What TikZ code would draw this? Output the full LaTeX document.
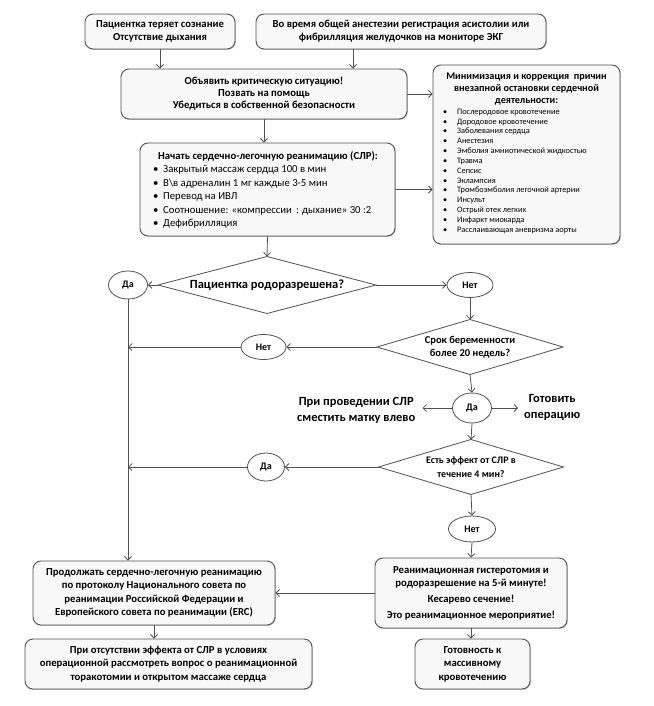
\documentclass[tikz,border=0pt]{standalone}
\usepackage{fontspec}
\setmainfont{Carlito}
\usetikzlibrary{shapes.geometric,arrows.meta,shadows}
\definecolor{lc}{RGB}{80,80,80}
\definecolor{bf}{RGB}{248,248,248}
\begin{document}
\begin{tikzpicture}[x=1pt,y=-1pt,
 box/.style={draw=lc, fill=bf, rounded corners=8pt, line width=0.9pt, inner sep=0pt, align=center,
   drop shadow={shadow xshift=0.8pt,shadow yshift=-0.8pt,fill=black,opacity=0.25}},
 dia/.style={draw=lc, fill=white, diamond, inner sep=0pt, outer sep=0pt, align=center, line width=0.8pt},
 ell/.style={draw=lc, fill=white, ellipse, inner sep=0pt, line width=0.8pt, font=\bfseries\fontsize{10}{11}\selectfont},
 arr/.style={draw=lc, line width=0.8pt, -{Straight Barb[length=3.5pt,width=7pt]}},
 bt/.style={font=\bfseries\fontsize{10.7}{13}\selectfont},
 bt2/.style={font=\bfseries\fontsize{10.7}{13.5}\selectfont},
 itm/.style={anchor=base west, inner sep=0pt, font=\fontsize{8.3}{10}\selectfont},
 ditm/.style={anchor=base west, inner sep=0pt, font=\fontsize{10.7}{13}\selectfont},
 side/.style={font=\bfseries\fontsize{12.5}{16}\selectfont, align=center, inner sep=0pt},
]
\useasboundingbox (0,0) rectangle (653,706);

% top boxes
\node[box,bt, minimum width=150, minimum height=35] (A) at (160,31.5) {Пациентка теряет сознание\\Отсутствие дыхания};
\node[box,bt, minimum width=290, minimum height=35] (B) at (401,31.5) {Во время общей анестезии регистрация асистолии или\\фибрилляция желудочков на мониторе ЭКГ};
\node[box, font=\bfseries\fontsize{10.7}{12}\selectfont, minimum width=286, minimum height=50] (C) at (264,94) {Объявить критическую ситуацию!\\Позвать на помощь\\Убедиться в собственной безопасности};

% minimization box
\node[box, minimum width=187, minimum height=179] (M) at (526.5,154.5) {};
\node[font=\bfseries\fontsize{10.2}{12}\selectfont, align=center, inner sep=0pt] (Mt) at (526.5,89) {Минимизация и коррекция \ причин\\внезапной остановки сердечной\\деятельности:};
\foreach \t [count=\i] in {Послеродовое кровотечение, Дородовое кровотечение, Заболевания сердца, Анестезия, Эмболия амниотической жидкостью, Травма, Сепсис, Эклампсия, Тромбоэмболия легочной артерии, Инсульт, Острый отек легких, Инфаркт миокарда, Расслаивающая аневризма аорты}{
  \node[itm] (mb\i) at (443,{114.3+9.83*(\i-1)}) {•};
  \node[itm] (m\i) at (457,{114.3+9.83*(\i-1)}) {\t};
}

% CPR box
\node[box, minimum width=255, minimum height=93] (D) at (267.5,189.5) {};
\node[font=\bfseries\fontsize{10.7}{13}\selectfont, inner sep=0pt] (Dt) at (268,156) {Начать сердечно-легочную реанимацию (СЛР):};
\foreach \t/\yy [count=\i] in {Закрытый массаж сердца 100 в мин/169, В\textbackslash{}в адреналин 1 мг каждые 3-5 мин/183, Перевод на ИВЛ/196, Соотношение: «компрессии \,: дыхание» 30 :2/210, Дефибрилляция/223}{
  \node[ditm] (db\i) at (153,{\yy+3}) {•};
  \node[ditm] (d\i) at (163,{\yy+3}) {\t};
}

% decisions
\node[dia, minimum width=218, minimum height=57, aspect=3.8, font=\bfseries\fontsize{12.5}{15}\selectfont] (Q1) at (267,285) {Пациентка родоразрешена?};
\node[ell, minimum width=39, minimum height=28] (Da1) at (128,285) {Да};
\node[ell, minimum width=46, minimum height=25] (Net1) at (470,285) {Нет};
\node[dia, minimum width=186, minimum height=55, aspect=3.38, font=\bfseries\fontsize{10.5}{13}\selectfont] (Q2) at (470,347) {Срок беременности\\более 20 недель?};
\node[ell, minimum width=45, minimum height=25] (Net2) at (263.5,347) {Нет};
\node[ell, minimum width=39, minimum height=30] (Da2) at (472,408) {Да};
\node[side, anchor=east] (L) at (415.5,410) {При проведении СЛР\\сместить матку влево};
\node[side, anchor=west] (Rt) at (524,407) {Готовить\\операцию};
\node[dia, minimum width=185, minimum height=55, aspect=3.36, font=\bfseries\fontsize{10}{14}\selectfont] (Q3) at (471,467) {Есть эффект от СЛР в\\течение 4 мин?};
\node[ell, minimum width=37, minimum height=28] (Da3) at (266,467) {Да};
\node[ell, minimum width=47, minimum height=26] (Net3) at (472,529) {Нет};

% bottom boxes
\node[box,bt2, minimum width=242, minimum height=64] (P) at (154,593) {Продолжать сердечно-легочную реанимацию\\по протоколу Национального совета по\\реанимации Российской Федерации и\\Европейского совета по реанимации (ERC)};
\node[box,bt2, minimum width=192, minimum height=70] (R) at (471,593) {Реанимационная гистеротомия и\\родоразрешение на 5-й минуте!\\[2.5pt]Кесарево сечение!\\[2pt]Это реанимационное мероприятие!};
\node[box,bt2, minimum width=287, minimum height=50] (E) at (168.5,664) {При отсутствии эффекта от СЛР в условиях\\операционной рассмотреть вопрос о реанимационной\\торакотомии и открытом массаже сердца};
\node[box,bt2, minimum width=115, minimum height=50] (G) at (472.5,664) {Готовность к\\массивному\\кровотечению};

% connectors
\coordinate (Bs) at ([xshift=-48pt]B.south);
\coordinate (Le) at ([xshift=7pt]L.east);
\coordinate (Re) at ([xshift=-6pt]Rt.west);
\draw[arr] (A.south) -- (A.south |- C.north);
\draw[arr] (Bs) -- (Bs |- C.north);
\draw[arr] (C.east) -- (C.east -| M.west);
\draw[arr] (D.east) -- (D.east -| M.west);
\draw[arr] (C.south) -- (C.south |- D.north);
\draw[arr] (D.south) -- (Q1.north);
\draw[arr] (Q1.west) -- (Da1.east);
\draw[arr] (Q1.east) -- (Net1.west);
\draw[arr] (Net1.south) -- (Q2.north);
\draw[arr] (Q2.west) -- (Net2.east);
\draw[arr] (Net2.west) -- (Net2.west -| Da1.south);
\draw[arr] (Q2.south) -- (Da2.north);
\draw[arr] (Da2.west) -- (Le |- Da2.west);
\draw[arr] (Da2.east) -- (Re |- Da2.east);
\draw[arr] (Da2.south) -- (Q3.north);
\draw[arr] (Q3.west) -- (Da3.east);
\draw[arr] (Da3.west) -- (Da3.west -| Da1.south);
\draw[arr] (Q3.south) -- (Net3.north);
\draw[arr] (Net3.south) -- (R.north);
\draw[arr] (Da1.south) -- (Da1.south |- P.north);
\draw[arr] (R.west) -- (R.west -| P.east);
\draw[arr] (P.south) -- (P.south |- E.north);
\draw[arr] (R.south) -- (R.south |- G.north);
\end{tikzpicture}
\end{document}
